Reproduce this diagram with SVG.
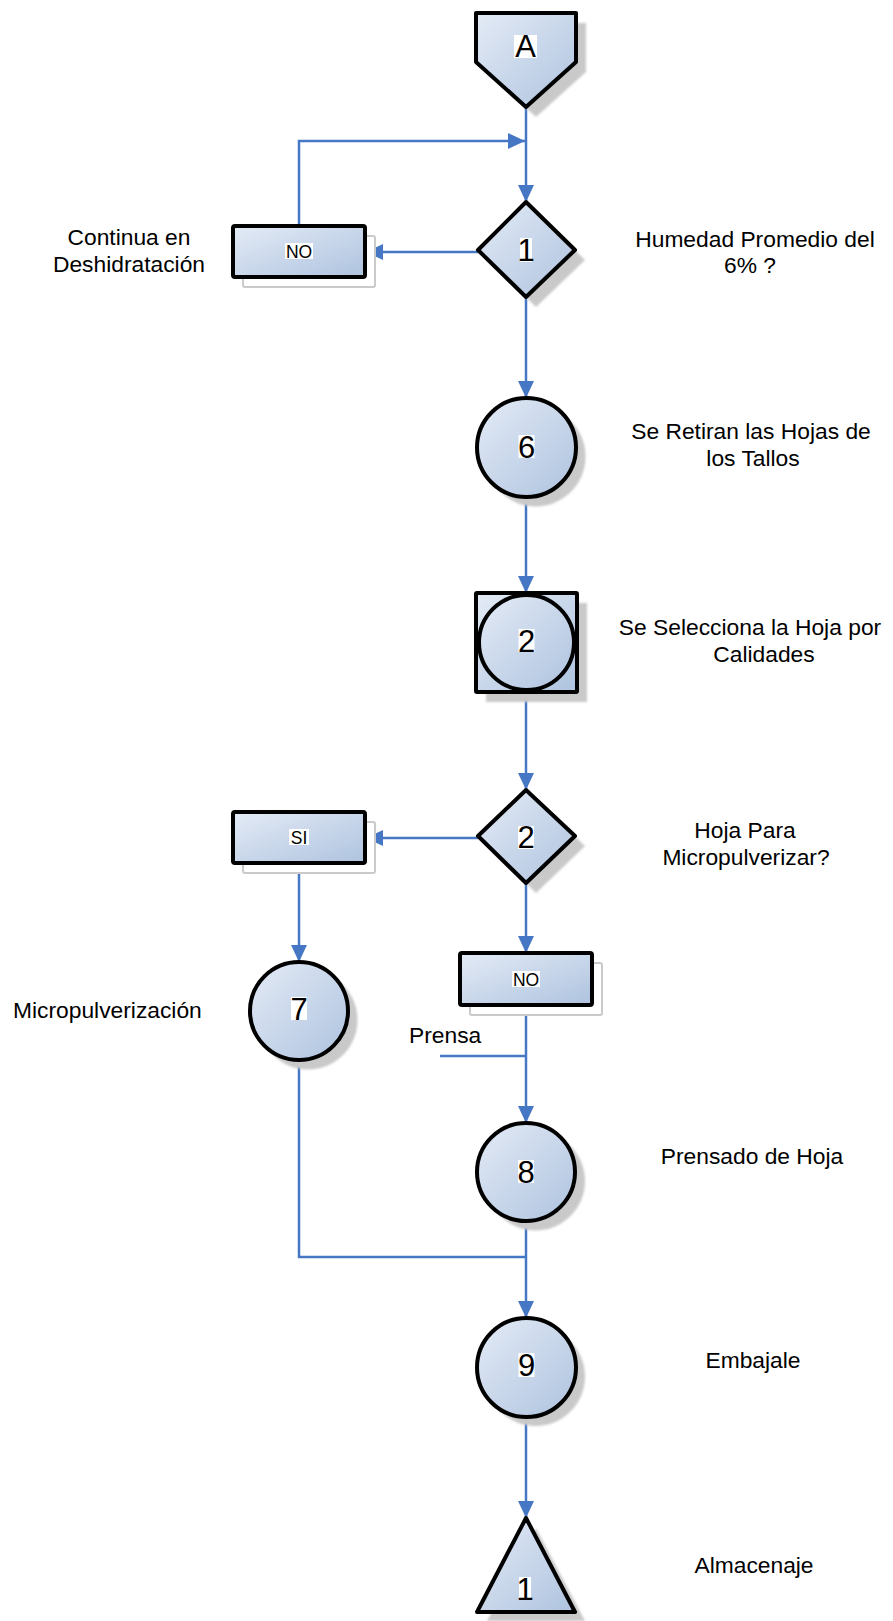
<svg xmlns="http://www.w3.org/2000/svg" width="893" height="1621" viewBox="0 0 893 1621">
  <defs>
    <linearGradient id="fillGrad" x1="0" y1="0" x2="1" y2="1">
      <stop offset="0" stop-color="#e4ebf6"/>
      <stop offset="1" stop-color="#aec3df"/>
    </linearGradient>
    <filter id="soft" x="-20%" y="-20%" width="140%" height="140%">
      <feGaussianBlur stdDeviation="1.3"/>
    </filter>
    <marker id="arrow" markerUnits="userSpaceOnUse" markerWidth="18" markerHeight="17" refX="17" refY="8" orient="auto">
      <path d="M0,0 L17,8 L0,16 Z" fill="#4677c4"/>
    </marker>
  </defs>
  <style>
    .shape { fill: url(#fillGrad); stroke: #000; stroke-width: 4; stroke-linejoin: round; }
    .shadow { fill: #c9c9c9; filter: url(#soft); }
    .shadowBox { fill: #fff; stroke: #cacaca; stroke-width: 2; }
    .conn { fill: none; stroke: #4677c4; stroke-width: 2.5; }
    .hl { fill: #fff; }
    .num { font-family: "Liberation Sans", Arial, sans-serif; font-size: 31px; text-anchor: middle; fill: #000; }
    .boxtxt { font-family: "Liberation Sans", Arial, sans-serif; font-size: 17.5px; text-anchor: middle; fill: #000; }
    .lbl { font-family: "Liberation Sans", Arial, sans-serif; font-size: 22.8px; text-anchor: middle; fill: #000; }
    .lblL { font-family: "Liberation Sans", Arial, sans-serif; font-size: 22.8px; fill: #000; }
  </style>

  <!-- connectors -->
  <g id="connectors">
    <path class="conn" d="M526,107 L526,202" marker-end="url(#arrow)"/>
    <path class="conn" d="M299,226 L299,141 L525,141" marker-end="url(#arrow)"/>
    <path class="conn" d="M478,252 L366,252" marker-end="url(#arrow)"/>
    <path class="conn" d="M526,297 L526,398" marker-end="url(#arrow)"/>
    <path class="conn" d="M526,497 L526,593" marker-end="url(#arrow)"/>
    <path class="conn" d="M526,692 L526,790" marker-end="url(#arrow)"/>
    <path class="conn" d="M478,838 L366,838" marker-end="url(#arrow)"/>
    <path class="conn" d="M299,863 L299,962" marker-end="url(#arrow)"/>
    <path class="conn" d="M526,883 L526,953" marker-end="url(#arrow)"/>
    <path class="conn" d="M526,1005 L526,1123" marker-end="url(#arrow)"/>
    <path class="conn" d="M440,1056 L526,1056"/>
    <path class="conn" d="M526,1221 L526,1318" marker-end="url(#arrow)"/>
    <path class="conn" d="M299,1060 L299,1257 L526,1257"/>
    <path class="conn" d="M526,1417 L526,1518" marker-end="url(#arrow)"/>
  </g>

  <!-- off-page connector A -->
  <g id="nodeA">
    <polygon class="shadow" points="486,23 586,23 586,72 536,117 486,72"/>
    <polygon class="shape" points="476,13 576,13 576,62 526,107 476,62"/>
    <rect class="hl" x="514" y="35" width="23" height="23"/>
    <text class="num" x="525.5" y="57">A</text>
  </g>

  <!-- decision 1 -->
  <g id="decision1">
    <polygon class="shadow" points="536,212 585,260 536,307 488,260"/>
    <polygon class="shape" points="526,202 575,250 526,297 478,250"/>
    <rect class="hl" x="520" y="238" width="12" height="24"/>
    <text class="num" x="526" y="261">1</text>
  </g>

  <!-- NO box (first decision) -->
  <g id="boxNo1">
    <rect class="shadowBox" x="243" y="236" width="132" height="51" rx="2"/>
    <rect class="shape" x="233" y="226" width="132" height="51" rx="2"/>
    <rect class="hl" x="285" y="243" width="28" height="16"/>
    <text class="boxtxt" x="299" y="257.5">NO</text>
  </g>

  <!-- operation 6 -->
  <g id="op6">
    <circle class="shadow" cx="535.5" cy="456.5" r="50"/>
    <circle class="shape" cx="526.5" cy="447.5" r="49.5"/>
    <rect class="hl" x="518.5" y="435" width="16" height="23"/>
    <text class="num" x="526.5" y="458">6</text>
  </g>

  <!-- combined operation/inspection 2 -->
  <g id="combo2">
    <rect class="shadow" x="486" y="603" width="101" height="99"/>
    <rect class="shape" x="476" y="593" width="101" height="99" rx="1"/>
    <circle class="shape" cx="526.5" cy="642.5" r="47.5"/>
    <rect class="hl" x="518.5" y="629" width="16" height="23"/>
    <text class="num" x="526.5" y="652">2</text>
  </g>

  <!-- decision 2 -->
  <g id="decision2">
    <polygon class="shadow" points="536,800 585,846 536,893 488,846"/>
    <polygon class="shape" points="526,790 575,836 526,883 478,836"/>
    <rect class="hl" x="518" y="826" width="16" height="23"/>
    <text class="num" x="526" y="848">2</text>
  </g>

  <!-- SI box -->
  <g id="boxSi">
    <rect class="shadowBox" x="243" y="822" width="132" height="51" rx="2"/>
    <rect class="shape" x="233" y="812" width="132" height="51" rx="2"/>
    <rect class="hl" x="289" y="829" width="20" height="16"/>
    <text class="boxtxt" x="299" y="843.5">SI</text>
  </g>

  <!-- NO box (second decision) -->
  <g id="boxNo2">
    <rect class="shadowBox" x="470" y="963" width="132" height="52" rx="2"/>
    <rect class="shape" x="460" y="953" width="132" height="52" rx="2"/>
    <rect class="hl" x="512" y="971" width="28" height="16"/>
    <text class="boxtxt" x="526" y="985.5">NO</text>
  </g>

  <!-- operation 7 -->
  <g id="op7">
    <circle class="shadow" cx="308" cy="1020" r="49.5"/>
    <circle class="shape" cx="299" cy="1011" r="49"/>
    <rect class="hl" x="291" y="997" width="16" height="23"/>
    <text class="num" x="299" y="1020">7</text>
  </g>

  <!-- operation 8 -->
  <g id="op8">
    <circle class="shadow" cx="535.5" cy="1181" r="49.5"/>
    <circle class="shape" cx="526" cy="1172" r="49"/>
    <rect class="hl" x="518" y="1160" width="16" height="23"/>
    <text class="num" x="526" y="1183">8</text>
  </g>

  <!-- operation 9 -->
  <g id="op9">
    <circle class="shadow" cx="535.5" cy="1376.5" r="49.5"/>
    <circle class="shape" cx="526.5" cy="1367.5" r="49.5"/>
    <rect class="hl" x="518.5" y="1353" width="16" height="24"/>
    <text class="num" x="526.5" y="1376">9</text>
  </g>

  <!-- storage 1 -->
  <g id="storage1">
    <polygon class="shadow" points="536,1528 585,1621 487,1621"/>
    <polygon class="shape" points="526,1518 575,1612 477,1612"/>
    <rect class="hl" x="519" y="1577" width="12" height="23"/>
    <text class="num" x="525" y="1600">1</text>
  </g>

  <!-- side labels -->
  <g id="labels">
    <text class="lbl" x="129" y="245">Continua en</text>
    <text class="lbl" x="129" y="272">Deshidratación</text>
    <text class="lbl" x="755" y="247">Humedad Promedio del</text>
    <text class="lbl" x="750" y="273">6% ?</text>
    <text class="lbl" x="751" y="439">Se Retiran las Hojas de</text>
    <text class="lbl" x="753" y="466">los Tallos</text>
    <text class="lbl" x="750" y="635">Se Selecciona la Hoja por</text>
    <text class="lbl" x="764" y="662">Calidades</text>
    <text class="lbl" x="745" y="838">Hoja Para</text>
    <text class="lbl" x="746" y="865">Micropulverizar?</text>
    <text class="lblL" x="13" y="1018">Micropulverización</text>
    <text class="lblL" x="409" y="1043">Prensa</text>
    <text class="lbl" x="752" y="1164">Prensado de Hoja</text>
    <text class="lbl" x="753" y="1368">Embajale</text>
    <text class="lbl" x="754" y="1573">Almacenaje</text>
  </g>
</svg>
